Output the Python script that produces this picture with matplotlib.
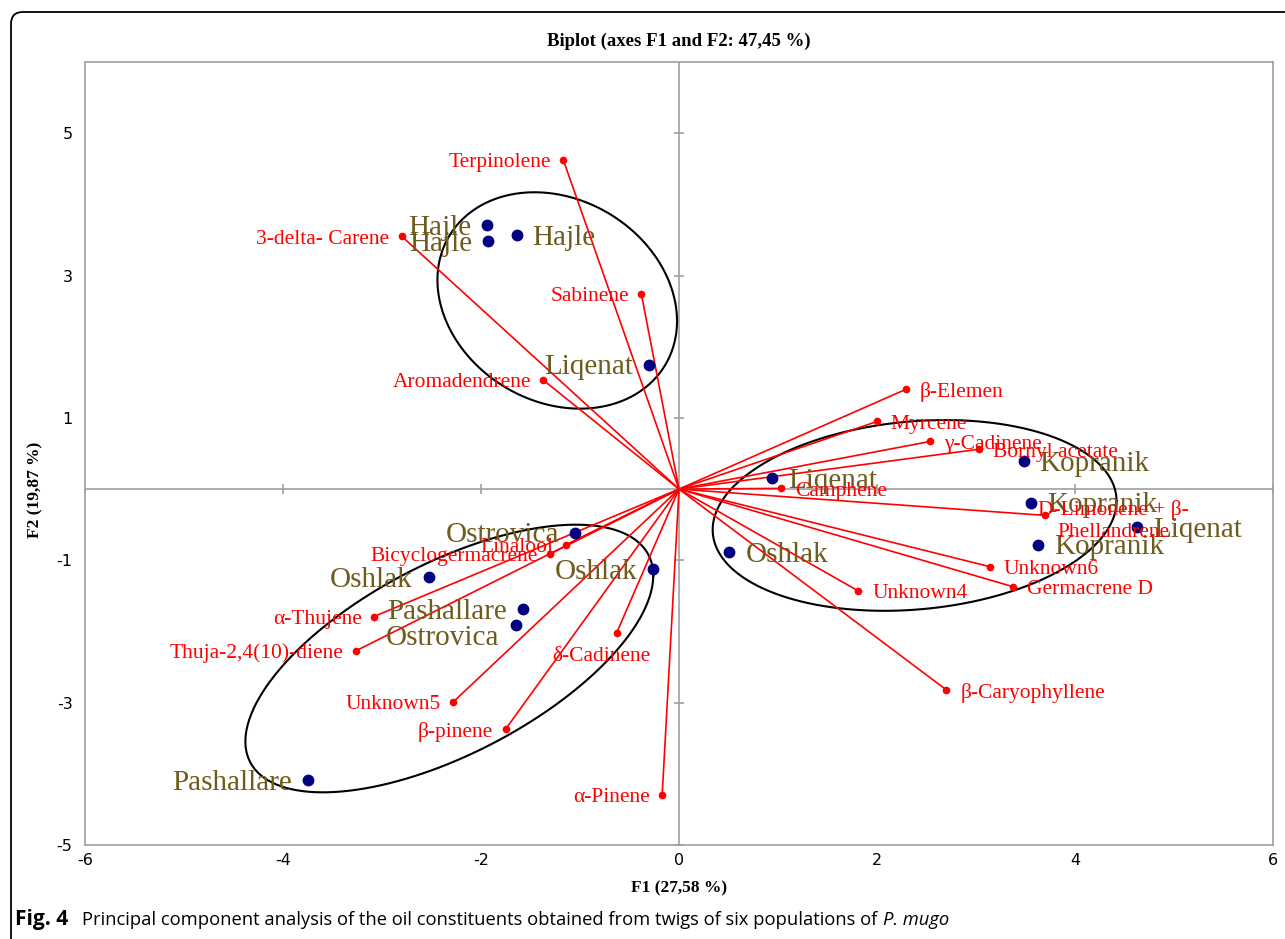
import numpy as np
import matplotlib.pyplot as plt
from matplotlib.patches import FancyBboxPatch
from matplotlib.transforms import IdentityTransform

plt.rcParams['axes.unicode_minus'] = False

# Observations (populations) on F1/F2
obs_names = ['Hajle', 'Hajle', 'Hajle', 'Liqenat', 'Liqenat', 'Kopranik',
             'Kopranik', 'Kopranik', 'Liqenat', 'Oshlak', 'Ostrovica',
             'Oshlak', 'Oshlak', 'Pashallare', 'Ostrovica', 'Pashallare']
obs_f1 = [-1.94, -1.93, -1.64, -0.30, 0.94, 3.48, 3.56, 3.63, 4.63, 0.51,
          -1.05, -0.26, -2.53, -1.58, -1.65, -3.75]
obs_f2 = [3.71, 3.48, 3.57, 1.75, 0.15, 0.39, -0.19, -0.78, -0.53, -0.88,
          -0.61, -1.12, -1.24, -1.69, -1.91, -4.09]
obs_side = ['L', 'L', 'R', 'L', 'R', 'R', 'R', 'R', 'R', 'R',
            'L', 'L', 'L', 'L', 'L', 'L']

# Variables (oil constituents)
var_names = ['Terpinolene', '3-delta- Carene', 'Sabinene', 'Aromadendrene',
             'β-Elemen', 'Myrcene', 'γ-Cadinene', 'Bornyl acetate',
             'Camphene', 'D-Limonene + β-\nPhellandrene', 'Unknown6',
             'Germacrene D', 'Unknown4', 'β-Caryophyllene', 'Linalool',
             'Bicyclogermacrene', 'α-Thujene', 'Thuja-2,4(10)-diene',
             'Unknown5', 'β-pinene', 'δ-Cadinene', 'α-Pinene']
var_f1 = [-1.17, -2.80, -0.38, -1.37, 2.29, 2.00, 2.54, 3.03, 1.03, 3.70,
          3.14, 3.37, 1.81, 2.70, -1.14, -1.30, -3.08, -3.26, -2.28, -1.75,
          -0.63, -0.17]
var_f2 = [4.63, 3.55, 2.74, 1.53, 1.40, 0.95, 0.67, 0.56, 0.01, -0.37,
          -1.09, -1.37, -1.43, -2.82, -0.78, -0.91, -1.79, -2.27, -2.99,
          -3.37, -2.02, -4.30]
var_side = ['L', 'L', 'L', 'L', 'R', 'R', 'R', 'R', 'R', 'C', 'R', 'R', 'R',
            'R', 'L', 'L', 'L', 'L', 'L', 'L', 'B', 'L']

# Group ellipses: centre, half extents and tilt
ell_cx = [-1.23, 2.38, -2.32]
ell_cy = [2.65, -0.37, -2.38]
ell_rx = [1.21, 2.04, 2.06]
ell_ry = [1.52, 1.34, 1.88]
ell_rho = [-0.19, 0.15, 0.62]

xticks = [-6, -4, -2, 0, 2, 4, 6]
yticks = [-5, -3, -1, 1, 3, 5]

olive = '#6E5B1E'
serif = 'Liberation Serif'

fig = plt.figure(figsize=(12.85, 9.39), dpi=100)
ax = fig.add_axes([85 / 1285, 1 - 845 / 939, 1188 / 1285, 783 / 939])
ax.set_xlim(-6, 6)
ax.set_ylim(-5, 6)
ax.set_xticks(xticks)
ax.set_yticks(yticks)
ax.tick_params(length=0, labelsize=11.5, colors='black')
ax.tick_params(axis='y', pad=9)
ax.tick_params(axis='x', pad=6)
for s in ax.spines.values():
    s.set_color('#A0A0A0')
    s.set_linewidth(1.2)

# zero lines with small crossing ticks
ax.axhline(0, color='#A0A0A0', lw=1.2, zorder=1)
ax.axvline(0, color='#A0A0A0', lw=1.2, zorder=1)
ax.plot(xticks, [0] * len(xticks), ls='none', marker='|', ms=7,
        mec='#A0A0A0', mew=1.2, zorder=1)
ax.plot([0] * len(yticks), yticks, ls='none', marker='_', ms=7,
        mec='#A0A0A0', mew=1.2, zorder=1)

# ellipses
t = np.linspace(0, 2 * np.pi, 300)
for cx, cy, rx, ry, rho in zip(ell_cx, ell_cy, ell_rx, ell_ry, ell_rho):
    ex = cx + rx * np.cos(t)
    ey = cy + ry * (rho * np.cos(t) + np.sqrt(1 - rho ** 2) * np.sin(t))
    ax.plot(ex, ey, color='black', lw=1.5, zorder=2)

# variable vectors
for x, y in zip(var_f1, var_f2):
    ax.plot([0, x], [0, y], color='red', lw=1.2, zorder=3)
ax.plot(var_f1, var_f2, ls='none', marker='o', ms=4.5, color='red', zorder=4)

for name, x, y, side in zip(var_names, var_f1, var_f2, var_side):
    if side == 'L':
        off, ha = (-9, -2), 'right'
    elif side == 'R':
        off, ha = (10, -2), 'left'
    elif side == 'B':
        off, ha = (-11, -17), 'center'
    else:
        off, ha = (49, -4), 'center'
    ax.annotate(name, (x, y), xytext=off, textcoords='offset points',
                ha=ha, va='center', color='red', fontsize=15.5,
                family=serif, multialignment='center', linespacing=1.2,
                zorder=6)

# observations
ax.plot(obs_f1, obs_f2, ls='none', marker='o', ms=7.5, color='#000080',
        zorder=5)
for i, (name, x, y, side) in enumerate(zip(obs_names, obs_f1, obs_f2,
                                           obs_side)):
    dy = -2 if i != 14 else -9
    if side == 'L':
        off, ha = (-11.5, dy), 'right'
    else:
        off, ha = (11.5, dy), 'left'
    ax.annotate(name, (x, y), xytext=off, textcoords='offset points',
                ha=ha, va='center', color=olive, fontsize=21, family=serif,
                zorder=5)

# titles and axis labels
fig.text(679 / 1285, 1 - 41 / 939, 'Biplot (axes F1 and F2: 47,45 %)',
         ha='center', va='center', fontsize=13.5, fontweight='bold',
         family=serif)
fig.text(679 / 1285, 1 - 888 / 939, 'F1 (27,58 %)', ha='center',
         va='center', fontsize=12.5, fontweight='bold', family=serif)
fig.text(35 / 1285, 1 - 490 / 939, 'F2 (19,87 %)', ha='center',
         va='center', rotation=90, fontsize=12.5, fontweight='bold',
         family=serif)

# caption
renderer = fig.canvas.get_renderer()
cy = 1 - 920 / 939
t1 = fig.text(15 / 1285, cy, 'Fig. 4', ha='left', va='center',
              fontsize=15, fontweight='bold', family='Open Sans')
bb = t1.get_window_extent(renderer)
t2 = fig.text((bb.x1 + 14) / 1285, cy,
              'Principal component analysis of the oil constituents '
              'obtained from twigs of six populations of ',
              ha='left', va='center', fontsize=13.2, family='Open Sans')
bb = t2.get_window_extent(renderer)
fig.text((bb.x1 + 1) / 1285, cy, 'P. mugo', ha='left', va='center',
         fontsize=13.2, style='italic', family='Open Sans')

# rounded border
box = FancyBboxPatch((11, -40), 1320, 939 - 12 + 40,
                     boxstyle='round,pad=0,rounding_size=12',
                     transform=IdentityTransform(), fill=False,
                     edgecolor='black', lw=1.3)
fig.patches.append(box)

fig.savefig('out.png', dpi=100)
